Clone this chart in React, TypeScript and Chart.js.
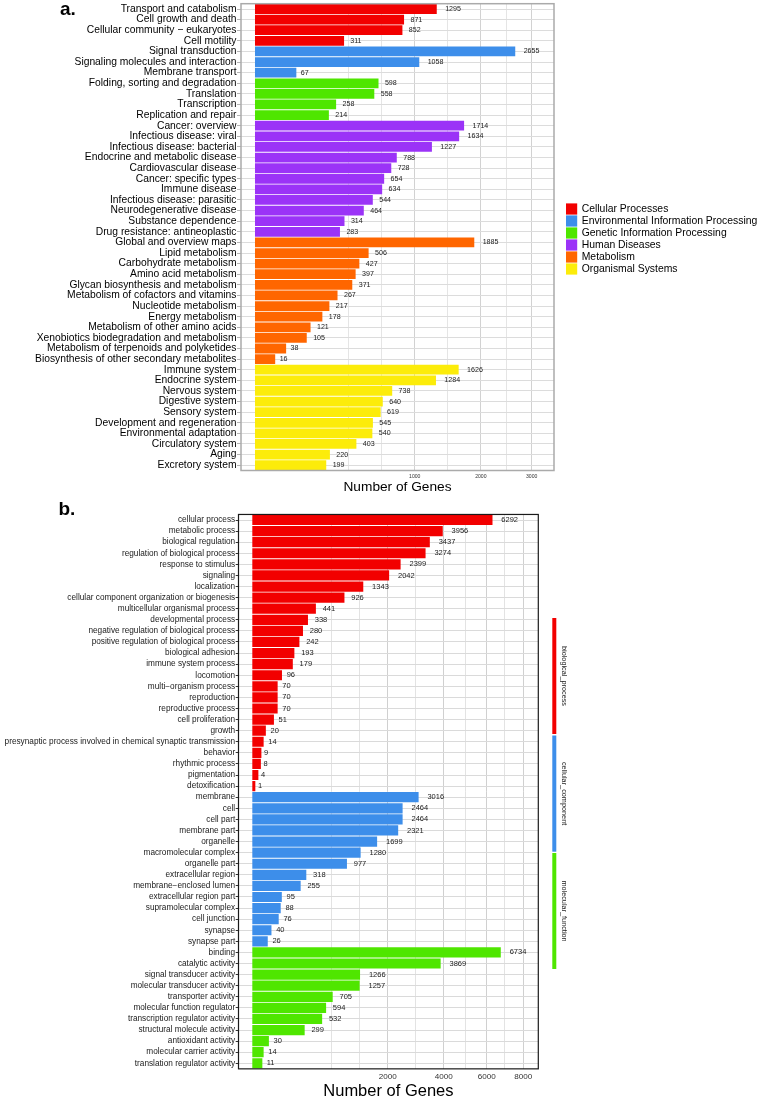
import React, { useEffect, useRef } from "react";
import { Chart, registerables } from "chart.js";

Chart.register(...registerables);

const FONT = "'Liberation Sans', Arial, Helvetica, sans-serif";

// ---------- Panel a: KEGG ----------
const keggCategories = [
  "Transport and catabolism",
  "Cell growth and death",
  "Cellular community \u2212 eukaryotes",
  "Cell motility",
  "Signal transduction",
  "Signaling molecules and interaction",
  "Membrane transport",
  "Folding, sorting and degradation",
  "Translation",
  "Transcription",
  "Replication and repair",
  "Cancer: overview",
  "Infectious disease: viral",
  "Infectious disease: bacterial",
  "Endocrine and metabolic disease",
  "Cardiovascular disease",
  "Cancer: specific types",
  "Immune disease",
  "Infectious disease: parasitic",
  "Neurodegenerative disease",
  "Substance dependence",
  "Drug resistance: antineoplastic",
  "Global and overview maps",
  "Lipid metabolism",
  "Carbohydrate metabolism",
  "Amino acid metabolism",
  "Glycan biosynthesis and metabolism",
  "Metabolism of cofactors and vitamins",
  "Nucleotide metabolism",
  "Energy metabolism",
  "Metabolism of other amino acids",
  "Xenobiotics biodegradation and metabolism",
  "Metabolism of terpenoids and polyketides",
  "Biosynthesis of other secondary metabolites",
  "Immune system",
  "Endocrine system",
  "Nervous system",
  "Digestive system",
  "Sensory system",
  "Development and regeneration",
  "Environmental adaptation",
  "Circulatory system",
  "Aging",
  "Excretory system",
];
const keggValues = [
  1295, 871, 852, 311,
  2655, 1058, 67,
  598, 558, 258, 214,
  1714, 1634, 1227, 788, 728, 654, 634, 544, 464, 314, 283,
  1885, 506, 427, 397, 371, 267, 217, 178, 121, 105, 38, 16,
  1626, 1284, 738, 640, 619, 545, 540, 403, 220, 199,
];
const keggGroupSizes = [4, 3, 4, 11, 12, 10];
const keggGroupNames = [
  "Cellular Processes",
  "Environmental Information Processing",
  "Genetic Information Processing",
  "Human Diseases",
  "Metabolism",
  "Organismal Systems",
];
const keggGroupColors = ["#F20000", "#3D8EEA", "#4FE600", "#9B33F7", "#FF6600", "#FCEC0A"];
const keggTicks = [1000, 2000, 3000];

// ---------- Panel b: GO ----------
const goCategories = [
  "cellular process",
  "metabolic process",
  "biological regulation",
  "regulation of biological process",
  "response to stimulus",
  "signaling",
  "localization",
  "cellular component organization or biogenesis",
  "multicellular organismal process",
  "developmental process",
  "negative regulation of biological process",
  "positive regulation of biological process",
  "biological adhesion",
  "immune system process",
  "locomotion",
  "multi\u2212organism process",
  "reproduction",
  "reproductive process",
  "cell proliferation",
  "growth",
  "presynaptic process involved in chemical synaptic transmission",
  "behavior",
  "rhythmic process",
  "pigmentation",
  "detoxification",
  "membrane",
  "cell",
  "cell part",
  "membrane part",
  "organelle",
  "macromolecular complex",
  "organelle part",
  "extracellular region",
  "membrane\u2212enclosed lumen",
  "extracellular region part",
  "supramolecular complex",
  "cell junction",
  "synapse",
  "synapse part",
  "binding",
  "catalytic activity",
  "signal transducer activity",
  "molecular transducer activity",
  "transporter activity",
  "molecular function regulator",
  "transcription regulator activity",
  "structural molecule activity",
  "antioxidant activity",
  "molecular carrier activity",
  "translation regulator activity",
];
const goValues = [
  6292, 3956, 3437, 3274, 2399, 2042, 1343, 926, 441, 338, 280, 242, 193, 179, 96, 70, 70, 70, 51, 20, 14, 9, 8, 4, 1,
  3016, 2464, 2464, 2321, 1699, 1280, 977, 318, 255, 95, 88, 76, 40, 26,
  6734, 3869, 1266, 1257, 705, 594, 532, 299, 30, 14, 11,
];
const goGroupSizes = [25, 14, 11];
const goGroupNames = ["biological_process", "cellular_component", "molecular_function"];
const goGroupColors = ["#F20000", "#3D8EEA", "#4FE600"];
const goTicks = [2000, 4000, 6000, 8000];

// ---------- helpers ----------
function expandColors(sizes: number[], colors: string[]): string[] {
  const out: string[] = [];
  sizes.forEach((n, g) => {
    for (let i = 0; i < n; i++) out.push(colors[g]);
  });
  return out;
}

// ggplot-style major + minor grid positions on a sqrt-transformed axis
function sqrtGrid(ticks: number[], max: number): number[] {
  const b = ticks.map(Math.sqrt);
  const d = b[1] - b[0];
  const ext = [b[0] - d, ...b, b[b.length - 1] + d];
  const out: number[] = [];
  for (let i = 0; i < ext.length - 1; i++) {
    out.push(ext[i]);
    out.push((ext[i] + ext[i + 1]) / 2);
  }
  out.push(ext[ext.length - 1]);
  return out.filter((v) => v > 0 && v <= max);
}

type Spec = {
  labels: string[];
  values: number[];
  colors: string[];
  ticks: number[];
  xMin: number;
  xMax: number;
  yWidth: number;
  xHeight: number;
  padTop: number;
  padRight: number;
  labelFont: number;
  labelColor: string;
  tickLen: number;
  tickColor: string;
  hGrid: string;
  vMajor: string;
  vMinor: string;
  xTickFont: number;
  xTickPad: number;
  titleFont: number;
  titlePadBottom: number;
  valueFont: number;
  borderColor: string;
  borderWidth: number;
  extra: (ctx: CanvasRenderingContext2D) => void;
};

function buildChart(canvas: HTMLCanvasElement, s: Spec) {
  const grid = sqrtGrid(s.ticks, s.xMax);
  const majors = s.ticks.map(Math.sqrt);
  const isMajor = (v: number) => majors.some((m) => Math.abs(m - v) < 1e-6);

  const overlay = {
    id: "overlay",
    afterDatasetsDraw(chart: any) {
      const ctx: CanvasRenderingContext2D = chart.ctx;
      ctx.save();
      ctx.font = `${s.valueFont}px ${FONT}`;
      ctx.fillStyle = "#1a1a1a";
      ctx.textAlign = "left";
      ctx.textBaseline = "middle";
      chart.getDatasetMeta(0).data.forEach((el: any, i: number) => {
        const p = el.getProps(["x", "y"], true);
        const t = String(s.values[i]);
        const w = ctx.measureText(t).width;
        ctx.fillText(t, p.x + 0.5 * w + 0.5, p.y);
      });
      ctx.restore();
    },
    afterDraw(chart: any) {
      const ctx: CanvasRenderingContext2D = chart.ctx;
      const a = chart.chartArea;
      ctx.save();
      ctx.strokeStyle = s.borderColor;
      ctx.lineWidth = s.borderWidth;
      ctx.strokeRect(a.left, a.top, a.right - a.left, a.bottom - a.top);
      s.extra(ctx);
      ctx.restore();
    },
  };

  return new Chart(canvas, {
    type: "bar",
    data: {
      labels: s.labels,
      datasets: [
        {
          data: s.values.map(Math.sqrt),
          backgroundColor: s.colors,
          borderWidth: 0,
          barPercentage: 0.92,
          categoryPercentage: 1,
        },
      ],
    },
    options: {
      indexAxis: "y",
      responsive: false,
      animation: false,
      devicePixelRatio: 1,
      events: [],
      layout: { padding: { left: 0, top: s.padTop, right: s.padRight, bottom: 0 } },
      plugins: {
        legend: { display: false },
        tooltip: { enabled: false },
        title: { display: false },
      },
      scales: {
        x: {
          type: "linear",
          min: s.xMin,
          max: s.xMax,
          bounds: "data",
          afterBuildTicks: (sc: any) => {
            sc.ticks = grid.map((v) => ({ value: v }));
          },
          afterFit: (sc: any) => {
            sc.height = s.xHeight;
            sc.paddingLeft = 0;
            sc.paddingRight = 0;
          },
          border: { display: false },
          grid: {
            drawTicks: false,
            color: (c: any) => (isMajor(c.tick?.value) ? s.vMajor : s.vMinor),
            lineWidth: (c: any) => (isMajor(c.tick?.value) ? 1 : 0.8),
          },
          ticks: {
            autoSkip: false,
            maxRotation: 0,
            minRotation: 0,
            padding: s.xTickPad,
            color: "#333333",
            font: { family: FONT, size: s.xTickFont },
            callback: (v: any) => (isMajor(Number(v)) ? String(Math.round(Number(v) * Number(v))) : ""),
          },
          title: {
            display: true,
            text: "Number of Genes",
            color: "#000000",
            font: { family: FONT, size: s.titleFont },
            padding: { top: 0, bottom: s.titlePadBottom },
          },
        },
        y: {
          type: "category",
          offset: true,
          afterFit: (sc: any) => {
            sc.width = s.yWidth;
            sc.paddingTop = 0;
            sc.paddingBottom = 0;
          },
          border: { display: false },
          grid: {
            offset: false,
            color: s.hGrid,
            lineWidth: 1,
            drawTicks: true,
            tickLength: s.tickLen,
            tickColor: s.tickColor,
            tickWidth: 1,
          },
          ticks: {
            autoSkip: false,
            padding: 0.5,
            color: s.labelColor,
            font: { family: FONT, size: s.labelFont },
          },
        },
      },
    },
    plugins: [overlay],
  } as any);
}

export default function App() {
  const refA = useRef<HTMLCanvasElement>(null);
  const refB = useRef<HTMLCanvasElement>(null);

  useEffect(() => {
    const chartA = buildChart(refA.current as HTMLCanvasElement, {
      labels: keggCategories,
      values: keggValues,
      colors: expandColors(keggGroupSizes, keggGroupColors),
      ticks: keggTicks,
      xMin: -2.77,
      xMax: 59.2,
      yWidth: 241,
      xHeight: 29.5,
      padTop: 3.7,
      padRight: 214,
      labelFont: 10.3,
      labelColor: "#000000",
      tickLen: 4,
      tickColor: "#B3B3B3",
      hGrid: "#DCDCDC",
      vMajor: "#D2D2D2",
      vMinor: "#DEDEDE",
      xTickFont: 5.1,
      xTickPad: 3.4,
      titleFont: 13.7,
      titlePadBottom: 4.1,
      valueFont: 7.1,
      borderColor: "#AAAAAA",
      borderWidth: 1.5,
      extra: (ctx) => {
        ctx.fillStyle = "#000000";
        ctx.font = `bold 19px ${FONT}`;
        ctx.textAlign = "left";
        ctx.textBaseline = "alphabetic";
        ctx.fillText("a.", 60, 14.5);
        // legend
        ctx.font = `10.4px ${FONT}`;
        ctx.textBaseline = "middle";
        keggGroupNames.forEach((name, i) => {
          const cy = 209 + i * 12;
          ctx.fillStyle = keggGroupColors[i];
          ctx.fillRect(566, cy - 5.6, 11.2, 11.2);
          ctx.fillStyle = "#000000";
          ctx.fillText(name, 581.7, cy);
        });
      },
    });

    const goCols = expandColors(goGroupSizes, goGroupColors);
    const chartB = buildChart(refB.current as HTMLCanvasElement, {
      labels: goCategories,
      values: goValues,
      colors: goCols,
      ticks: goTicks,
      xMin: -4.56,
      xMax: 94.45,
      yWidth: 238.5,
      xHeight: 51.15,
      padTop: 14.46,
      padRight: 229.7,
      labelFont: 8.25,
      labelColor: "#1a1a1a",
      tickLen: 2.8,
      tickColor: "#333333",
      hGrid: "#DADADA",
      vMajor: "#D0D0D0",
      vMinor: "#DCDCDC",
      xTickFont: 8.1,
      xTickPad: 3.3,
      titleFont: 16.5,
      titlePadBottom: 19.1,
      valueFont: 7.5,
      borderColor: "#1a1a1a",
      borderWidth: 1.2,
      extra: (ctx) => {
        ctx.fillStyle = "#000000";
        ctx.font = `bold 19px ${FONT}`;
        ctx.textAlign = "left";
        ctx.textBaseline = "alphabetic";
        ctx.fillText("b.", 58.5, 15);
        // side strip annotation
        const segs = [
          [618, 734],
          [735.5, 851.7],
          [853, 969],
        ];
        segs.forEach(([y0, y1], i) => {
          ctx.fillStyle = goGroupColors[i];
          ctx.fillRect(552.3, y0 - 500, 4, y1 - y0);
          ctx.save();
          ctx.translate(563.7, (y0 + y1) / 2 - 500);
          ctx.rotate(Math.PI / 2);
          ctx.fillStyle = "#1a1a1a";
          ctx.font = `7.3px ${FONT}`;
          ctx.textAlign = "center";
          ctx.textBaseline = "middle";
          ctx.fillText(goGroupNames[i], 0, 0);
          ctx.restore();
        });
      },
    });

    return () => {
      chartA.destroy();
      chartB.destroy();
    };
  }, []);

  return (
    <div style={{ position: "absolute", left: 0, top: 0, width: 768, height: 1120, background: "#ffffff" }}>
      <canvas
        ref={refA}
        width={768}
        height={500}
        style={{ position: "absolute", left: 0, top: 0, width: 768, height: 500 }}
      />
      <canvas
        ref={refB}
        width={768}
        height={620}
        style={{ position: "absolute", left: 0, top: 500, width: 768, height: 620 }}
      />
    </div>
  );
}
